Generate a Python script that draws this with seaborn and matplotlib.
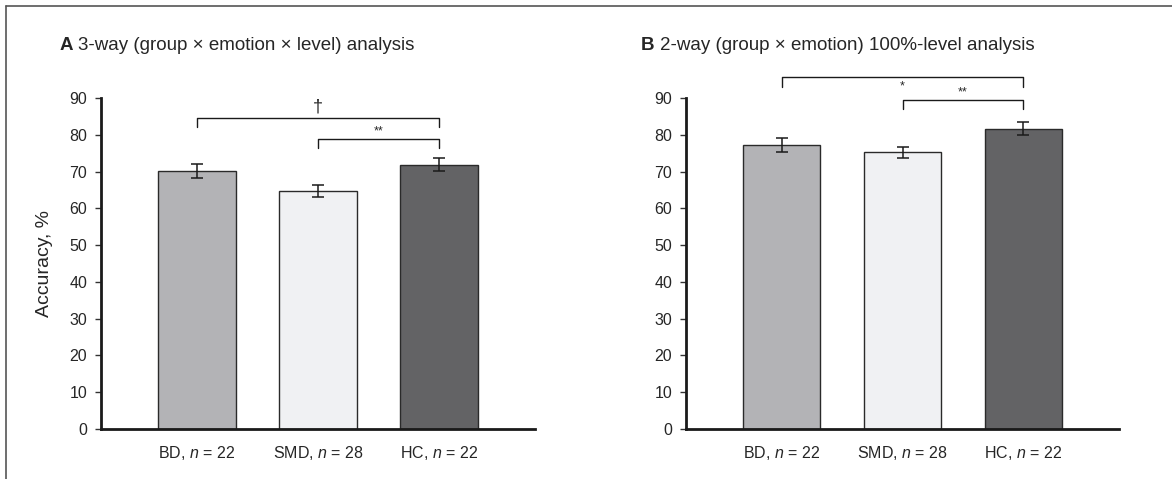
import matplotlib
matplotlib.use("Agg")
import matplotlib.pyplot as plt
import seaborn as sns
from matplotlib.lines import Line2D

# Dados
grupos = ["BD", "SMD", "HC"]
rotulos = ["BD, $\\mathit{n}$ = 22", "SMD, $\\mathit{n}$ = 28", "HC, $\\mathit{n}$ = 22"]
acc_3way = [70.1, 64.8, 71.9]
err_3way = [1.9, 1.6, 1.8]
acc_2way = [77.2, 75.2, 81.7]
err_2way = [1.9, 1.5, 1.8]
cores = {"BD": "#b2b3b7", "SMD": "#f0f1f3", "HC": "#636365"}

sns.set_theme(style="white")
plt.rcParams["font.family"] = ["Liberation Sans", "DejaVu Sans"]
plt.rcParams["mathtext.fontset"] = "custom"
plt.rcParams["mathtext.rm"] = "Liberation Sans"
plt.rcParams["mathtext.it"] = "Liberation Sans:italic"

fig = plt.figure(figsize=(11.72, 4.79), dpi=100)
ax_a = fig.add_axes([101 / 1172, 50 / 479, 434 / 1172, 331 / 479])
ax_b = fig.add_axes([686 / 1172, 50 / 479, 433 / 1172, 331 / 479])


def painel(ax, valores, erros):
    sns.barplot(x=grupos, y=valores, hue=grupos, palette=cores, legend=False,
                width=0.64, edgecolor="#2a2a2a", linewidth=1.0, ax=ax)
    ax.errorbar(range(3), valores, yerr=erros, fmt="none", ecolor="#1a1a1a",
                elinewidth=1.1, capsize=4.3, capthick=1.1)
    ax.set_xlim(-0.79, 2.79)
    ax.set_ylim(0, 90)
    ax.set_yticks(range(0, 91, 10))
    ax.set_xticks(range(3))
    ax.set_xticklabels(rotulos, fontsize=11.5)
    ax.tick_params(axis="y", left=True, length=4, width=1, color="#333333",
                   labelsize=11.5, pad=6)
    ax.tick_params(axis="x", length=0, pad=11)
    for lado in ["top", "right"]:
        ax.spines[lado].set_visible(False)
    for lado in ["left", "bottom"]:
        ax.spines[lado].set_color("#1a1a1a")
        ax.spines[lado].set_linewidth(2.0)
    ax.set_xlabel("")


def chave(ax, x0, x1, y, perna, texto, ty, fs):
    ax.plot([x0, x0, x1, x1], [y - perna, y, y, y - perna], color="#1a1a1a",
            lw=1.0, clip_on=False)
    ax.text((x0 + x1) / 2, ty, texto, ha="center", va="center", fontsize=fs,
            clip_on=False)


painel(ax_a, acc_3way, err_3way)
painel(ax_b, acc_2way, err_2way)

ax_a.set_ylabel("Accuracy, %", fontsize=14, labelpad=12)
ax_b.set_ylabel("")

# Chaves de significância
chave(ax_a, 0, 2, 84.6, 2.4, "†", 87.6, 13)
chave(ax_a, 1, 2, 78.8, 2.4, "**", 80.8, 9)
chave(ax_b, 0, 2, 95.7, 2.6, "*", 93.2, 9)
chave(ax_b, 1, 2, 89.5, 2.6, "**", 91.5, 9)

# Títulos dos painéis
fig.text(60 / 1172, 1 - 46 / 479, "A", fontsize=13.5, fontweight="bold", va="center")
fig.text(78 / 1172, 1 - 46 / 479, "3-way (group × emotion × level) analysis",
         fontsize=13.5, va="center")
fig.text(641 / 1172, 1 - 46 / 479, "B", fontsize=13.5, fontweight="bold", va="center")
fig.text(660 / 1172, 1 - 46 / 479, "2-way (group × emotion) 100%-level analysis",
         fontsize=13.5, va="center")

# Moldura (linhas superior e esquerda)
fig.add_artist(Line2D([6 / 1172, 1], [1 - 6 / 479, 1 - 6 / 479], color="#555555", lw=1.2))
fig.add_artist(Line2D([6 / 1172, 6 / 1172], [0, 1 - 6 / 479], color="#555555", lw=1.2))

fig.savefig("out.png", dpi=100)
